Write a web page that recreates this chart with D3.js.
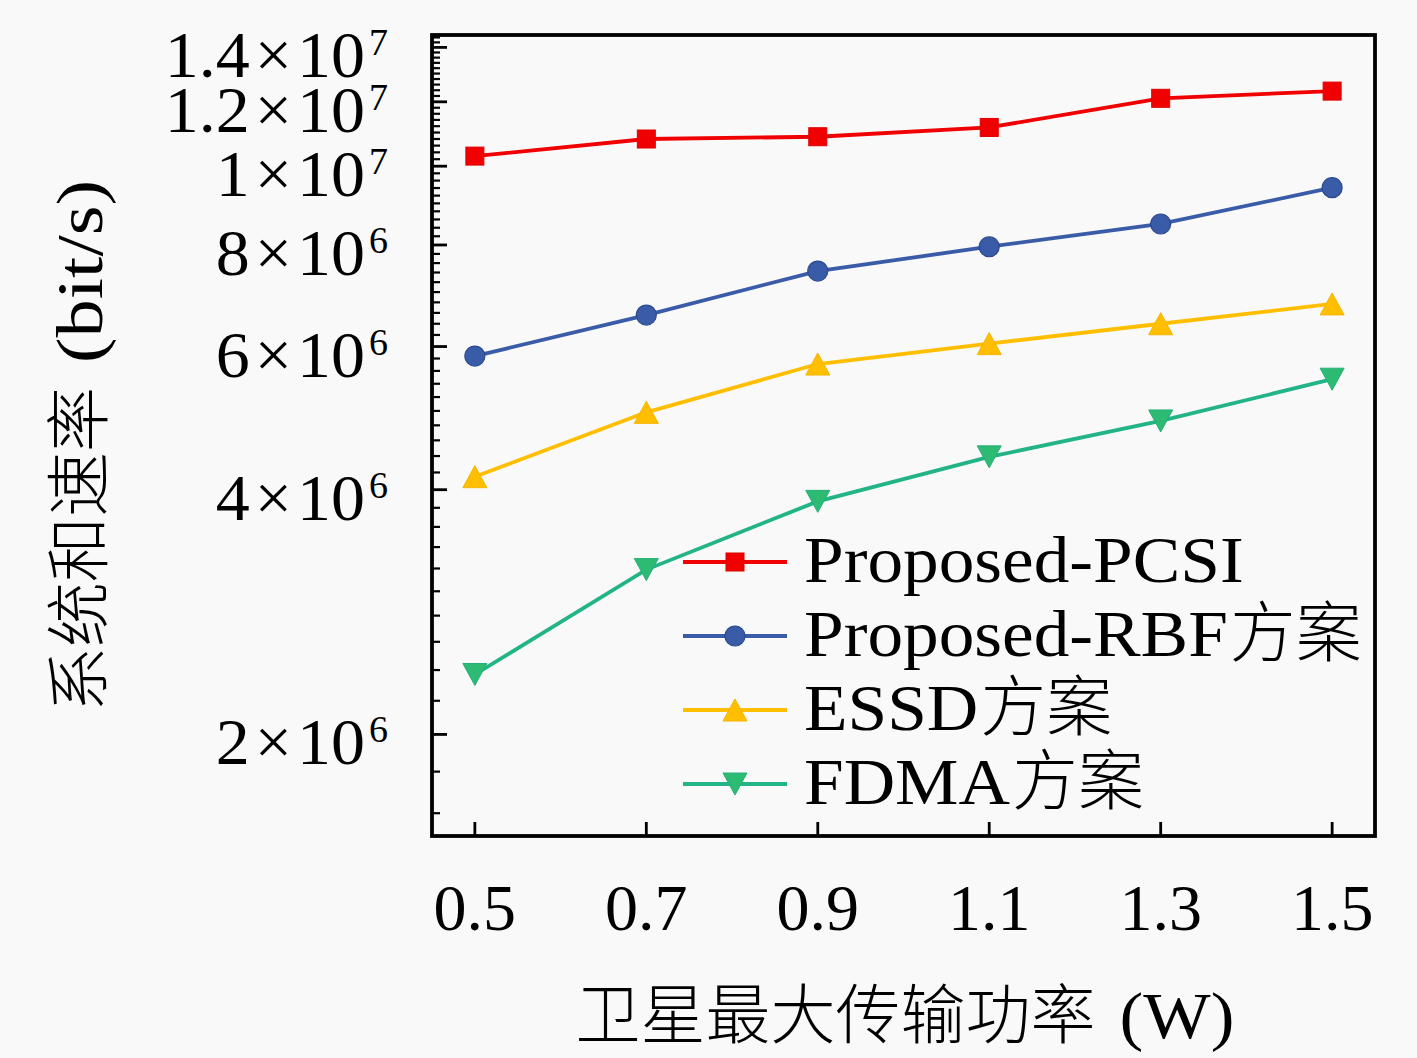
<!DOCTYPE html>
<html>
<head>
<meta charset="utf-8">
<script src="https://cdn.jsdelivr.net/npm/d3@7.9.0/dist/d3.min.js"></script>
<style>
  html, body { margin: 0; padding: 0; background: #f9f9f9; }
  svg { display: block; }
</style>
</head>
<body>
<svg id="chart" width="1417" height="1058"></svg>
<script>
/* --- Data --- */
const powers = [0.5, 0.7, 0.9, 1.1, 1.3, 1.5];               // W
const pcsiRate = [1.029e7, 1.080e7, 1.087e7, 1.116e7, 1.212e7, 1.237e7];
const rbfRate  = [5.84e6, 6.56e6, 7.43e6, 7.96e6, 8.49e6, 9.41e6];
const essdRate = [4.15e6, 4.98e6, 5.71e6, 6.05e6, 6.40e6, 6.77e6];
const fdmaRate = [2.37e6, 3.19e6, 3.87e6, 4.39e6, 4.86e6, 5.47e6];
const seriesNames = ['Proposed-PCSI', 'Proposed-RBF方案', 'ESSD方案', 'FDMA方案'];
const yMajorTicks = [2e6, 4e6, 6e6, 8e6, 1e7, 1.2e7, 1.4e7];
const xTicks = [0.5, 0.7, 0.9, 1.1, 1.3, 1.5];
const xLabel = ['卫星最大传输功率', '(W)'];
const yLabel = ['系统和速率', '(bit/s)'];

/* --- Look --- */
const serif = '"Liberation Serif", "DejaVu Serif", serif';
const cjk = '"Noto Sans CJK SC", sans-serif';
const stretch = 1.08;   // widen Times-like glyphs toward Computer Modern
const margin = { left: 432, right: 1375, top: 35, bottom: 836 };

const series = [
  { name: seriesNames[0], values: pcsiRate, color: '#f00000', edge: '#e00000', shape: 'square' },
  { name: seriesNames[1], values: rbfRate,  color: '#3a5ca8', edge: '#2c4a8e', shape: 'circle' },
  { name: seriesNames[2], values: essdRate, color: '#ffbf00', edge: '#f5b400', shape: 'up' },
  { name: seriesNames[3], values: fdmaRate, color: '#2dba72', edge: '#25b07a', shape: 'down', line: '#22b487' }
];

const svg = d3.select('#chart');

const x = d3.scaleLinear().domain([0.45, 1.55]).range([margin.left, margin.right]);
const y = d3.scaleLog().domain([1.5e6, 1.45e7]).range([margin.bottom, margin.top]);

/* --- Helper: sequence of text pieces (latin/cjk) on one baseline --- */
function richText(parent, parts, anchor) {
  const g = parent.append('g');
  let cx = 0;
  parts.forEach(p => {
    cx += p.before || 0;
    const t = g.append('text')
      .attr('x', cx)
      .attr('y', p.dy || 0)
      .attr('font-family', p.cjk ? cjk : serif)
      .attr('font-weight', p.cjk ? 300 : null)
      .attr('font-size', p.size)
      .attr('fill', '#000')
      .text(p.text);
    let w = t.node().getComputedTextLength();
    if (!p.cjk && p.stretch) {
      w *= p.stretch;
      t.attr('textLength', w).attr('lengthAdjust', 'spacingAndGlyphs');
    }
    cx += w;
  });
  const shift = anchor === 'middle' ? -cx / 2 : anchor === 'end' ? -cx : 0;
  g.attr('transform', `translate(${shift},0)`);
  return g;
}

/* --- Frame --- */
svg.append('rect')
  .attr('x', margin.left).attr('y', margin.top)
  .attr('width', margin.right - margin.left)
  .attr('height', margin.bottom - margin.top)
  .attr('fill', 'none').attr('stroke', '#000').attr('stroke-width', 3.8);

/* --- Y ticks (inside) --- */
const yMinor = d3.range(16, 146, 2).map(k => k * 1e5)
  .filter(v => !yMajorTicks.some(m => Math.abs(m - v) < 1));

svg.append('g').selectAll('line')
  .data(yMinor).join('line')
  .attr('x1', margin.left).attr('x2', margin.left + 8)
  .attr('y1', d => y(d)).attr('y2', d => y(d))
  .attr('stroke', '#000').attr('stroke-width', 2.2);

svg.append('g').selectAll('line')
  .data(yMajorTicks).join('line')
  .attr('x1', margin.left).attr('x2', margin.left + 15)
  .attr('y1', d => y(d)).attr('y2', d => y(d))
  .attr('stroke', '#000').attr('stroke-width', 2.8);

const yTickLayer = svg.append('g');
yMajorTicks.forEach(v => {
  const e = Math.floor(Math.log10(v));
  const mant = d3.format('~g')(+(v / 10 ** e).toFixed(2));
  const gAt = yTickLayer.append('g').attr('transform', `translate(365,${y(v) + 30})`);
  richText(gAt, [
    { text: mant, size: 66, stretch: 1.03 },
    { text: '×', size: 66, before: 5 },
    { text: '10', size: 66, before: 5, stretch: 1.03 }
  ], 'end');
  gAt.append('text')
    .attr('x', 4).attr('y', -22)
    .attr('font-family', serif).attr('font-size', 38)
    .text(String(e));
});

/* --- X ticks (inside) --- */
svg.append('g').selectAll('line')
  .data(xTicks).join('line')
  .attr('x1', d => x(d)).attr('x2', d => x(d))
  .attr('y1', margin.bottom).attr('y2', margin.bottom - 14)
  .attr('stroke', '#000').attr('stroke-width', 2.8);

svg.append('g').selectAll('text')
  .data(xTicks).join('text')
  .attr('x', d => x(d)).attr('y', 930)
  .attr('text-anchor', 'middle')
  .attr('font-family', serif).attr('font-size', 66)
  .text(d => d3.format('.1f')(d));

/* --- Axis titles --- */
richText(svg.append('g').attr('transform', 'translate(905,1038)'), [
  { text: xLabel[0], size: 65, cjk: true },
  { text: xLabel[1], size: 66, before: 24, stretch: stretch }
], 'middle');

richText(svg.append('g').attr('transform', 'translate(102,446) rotate(-90)'), [
  { text: yLabel[0], size: 65, cjk: true },
  { text: yLabel[1], size: 66, before: 24, stretch: 1.16 }
], 'middle');

/* --- Markers --- */
function drawMarker(sel, s) {
  if (s.shape === 'square') {
    sel.append('rect').attr('x', -9).attr('y', -9).attr('width', 18).attr('height', 18)
      .attr('fill', s.color).attr('stroke', s.edge).attr('stroke-width', 1);
  } else if (s.shape === 'circle') {
    sel.append('circle').attr('r', 10)
      .attr('fill', s.color).attr('stroke', s.edge).attr('stroke-width', 1.2);
  } else {
    // triangle centred on its bounding box, like matplotlib's ^ / v
    const w = 24, h = 22;
    const p = d3.path();
    p.moveTo(0, -h / 2); p.lineTo(w / 2, h / 2); p.lineTo(-w / 2, h / 2); p.closePath();
    sel.append('path').attr('d', p.toString())
      .attr('transform', s.shape === 'down' ? 'rotate(180)' : null)
      .attr('fill', s.color).attr('stroke', s.edge).attr('stroke-width', 1);
  }
}

/* --- Lines + points --- */
const line = d3.line().x((d, i) => x(powers[i])).y(d => y(d));
const plot = svg.append('g');
series.forEach(s => {
  plot.append('path')
    .attr('d', line(s.values))
    .attr('fill', 'none')
    .attr('stroke', s.line || s.color)
    .attr('stroke-width', 3.8);
  s.values.forEach((v, i) => {
    drawMarker(plot.append('g').attr('transform', `translate(${x(powers[i])},${y(v)})`), s);
  });
});

/* --- Legend --- */
const legend = svg.append('g');
series.forEach((s, i) => {
  const rowY = 562 + i * 74;
  const row = legend.append('g').attr('transform', `translate(0,${rowY})`);
  row.append('line')
    .attr('x1', 683).attr('x2', 787)
    .attr('stroke', s.line || s.color).attr('stroke-width', 3.8);
  drawMarker(row.append('g').attr('transform', 'translate(735,0)'), s);

  const m = s.name.match(/^([^\u4e00-\u9fff]+)([\u4e00-\u9fff]*)$/);
  const parts = [{ text: m[1], size: 66, stretch: stretch }];
  if (m[2]) parts.push({ text: m[2], size: 66, cjk: true, before: 2 });
  richText(row.append('g').attr('transform', 'translate(804,20)'), parts, 'start');
});
</script>
</body>
</html>
